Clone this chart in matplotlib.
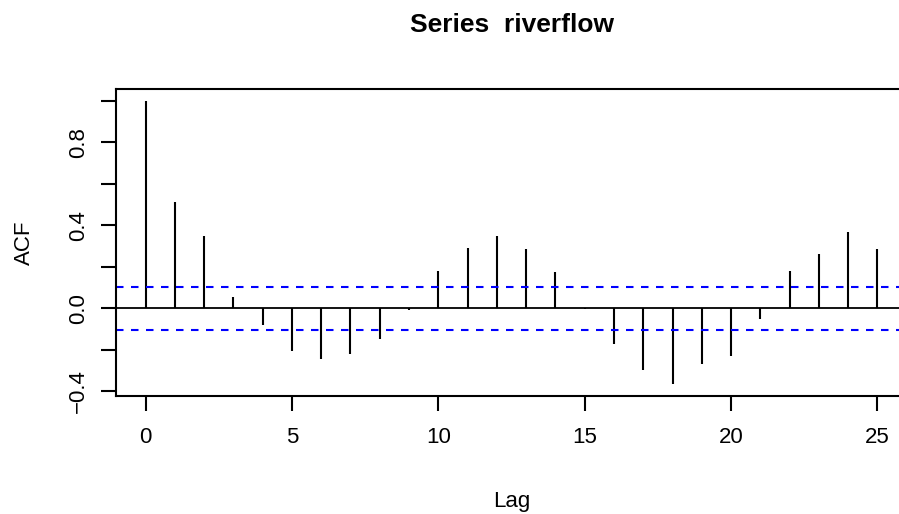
import numpy as np
import matplotlib
matplotlib.use('Agg')
from matplotlib import pyplot as plt

plt.rcParams['font.family'] = ['Liberation Sans', 'DejaVu Sans']

# autocorrelation of the riverflow series, lags 0..25
lags = list(range(26))
acf = [1.000, 0.514, 0.346, 0.056, -0.079, -0.207, -0.247, -0.223, -0.149, -0.010,
       0.179, 0.292, 0.349, 0.284, 0.176, -0.003, -0.171, -0.300, -0.367, -0.271,
       -0.231, -0.054, 0.178, 0.263, 0.367, 0.285]
ci = 0.103  # 1.96/sqrt(n)

yticks = [-0.4, -0.2, 0.0, 0.2, 0.4, 0.6, 0.8, 1.0]
ylabels = ['\u22120.4', '', '0.0', '', '0.4', '', '0.8', '']
xticks = [0, 5, 10, 15, 20, 25]

W, H = 899, 514
fig = plt.figure(figsize=(W/100, H/100), dpi=100)
# plot region in pixels: left 116.3, right 906.7 (runs off the edge), top 89.3, bottom 395.7
ax = fig.add_axes([116.3/W, 1 - 395.7/H, (906.7 - 116.3)/W, (395.7 - 89.3)/H])

ax.vlines(lags, 0, acf, color='black', lw=1.5)
ax.axhline(0, color='black', lw=1.3)
for c in (ci, -ci):
    ax.axhline(c, color='#0000ff', lw=1.5, ls=(0, (3.6, 3.6)))

ax.set_xlim(-1, 26)
ax.set_ylim(-0.4217, 1.0547)

ax.set_xticks(xticks)
ax.set_xticklabels([str(x) for x in xticks], fontsize=16)
ax.set_yticks(yticks)
ax.set_yticklabels(ylabels, fontsize=16, rotation=90, va='center')

for s in ax.spines.values():
    s.set_linewidth(1.5)
ax.tick_params(axis='both', direction='out', length=10.5, width=1.5)
ax.tick_params(axis='x', pad=12)
ax.tick_params(axis='y', pad=9)

fig.text(511.5/W, 1 - 31.7/H, 'Series  riverflow', ha='center', va='baseline',
         fontsize=19, fontweight='bold')
fig.text(511.5/W, 1 - 506.7/H, 'Lag', ha='center', va='baseline', fontsize=16)
fig.text(30/W, 1 - 242.5/H, 'ACF', ha='center', va='baseline', fontsize=16,
         rotation=90, rotation_mode='anchor')

fig.savefig('out.png', dpi=100)
